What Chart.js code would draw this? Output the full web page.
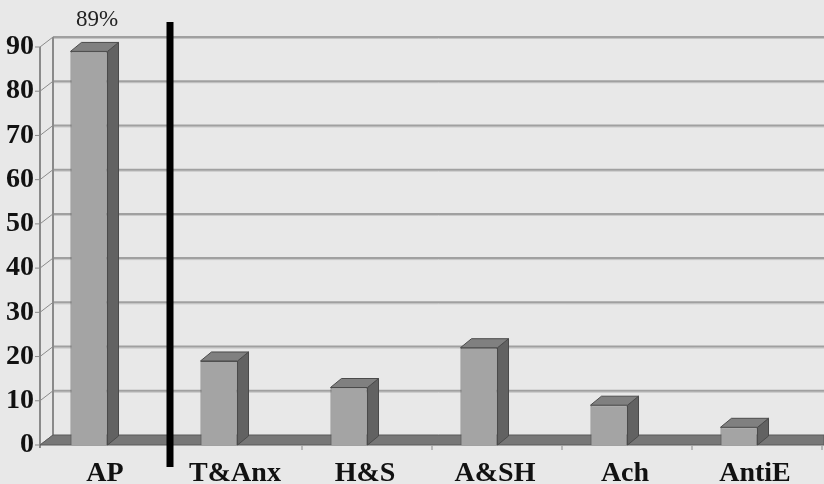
<!DOCTYPE html>
<html>
<head>
<meta charset="utf-8">
<script src="https://cdn.jsdelivr.net/npm/chart.js@4"></script>
<style>
  html, body { margin: 0; padding: 0; background: #e8e8e8; }
  #wrap { width: 824px; height: 484px; position: relative; }
</style>
</head>
<body>
<div id="wrap"><canvas id="chart"></canvas></div>
<script>
'use strict'

const categories = ['AP', 'T&Anx', 'H&S', 'A&SH', 'Ach', 'AntiE']
const percentages = [89, 19, 13, 22, 9, 4]
const yTicks = [0, 10, 20, 30, 40, 50, 60, 70, 80, 90]
const labelledBars = [0]

const DEPTH_X = 11
const DEPTH_Y = 9
const WALL_X = 13
const WALL_Y = 10
const SERIF = '"Liberation Serif", "Times New Roman", serif'

// fake 3d: back wall, floor, bar tops/sides, separator and the % label
const box3d = {
  id: 'box3d',
  beforeDatasetsDraw (chart) {
    const { ctx, scales: { x, y } } = chart
    const right = chart.width
    const frontX = 40
    const backX = frontX + WALL_X
    ctx.save()

    // wall gridlines
    for (const v of yTicks) {
      const fy = y.getPixelForValue(v)
      const by = fy - WALL_Y
      if (v > 0) {
        ctx.strokeStyle = '#c4c4c4'
        ctx.lineWidth = 1
        ctx.beginPath()
        ctx.moveTo(backX, by + 1.5)
        ctx.lineTo(right, by + 1.5)
        ctx.stroke()
        ctx.strokeStyle = '#a0a0a0'
        ctx.lineWidth = 2
        ctx.beginPath()
        ctx.moveTo(backX, by)
        ctx.lineTo(right, by)
        ctx.stroke()
      }
      ctx.strokeStyle = '#8a8a8a'
      ctx.lineWidth = 1
      ctx.beginPath()
      ctx.moveTo(frontX - 5, fy)
      ctx.lineTo(frontX, fy)
      ctx.lineTo(backX, by)
      ctx.stroke()
    }

    // front and back vertical edges
    const top = y.getPixelForValue(yTicks[yTicks.length - 1])
    const base = y.getPixelForValue(0)
    ctx.strokeStyle = '#8a8a8a'
    ctx.lineWidth = 2
    ctx.beginPath()
    ctx.moveTo(frontX, top)
    ctx.lineTo(frontX, base + 3)
    ctx.moveTo(backX, top - WALL_Y)
    ctx.lineTo(backX, base - WALL_Y)
    ctx.stroke()

    // floor slab
    ctx.fillStyle = '#777777'
    ctx.strokeStyle = '#5a5a5a'
    ctx.lineWidth = 1
    ctx.beginPath()
    ctx.moveTo(frontX, base)
    ctx.lineTo(backX, base - WALL_Y)
    ctx.lineTo(right, base - WALL_Y)
    ctx.lineTo(right, base)
    ctx.closePath()
    ctx.fill()
    ctx.stroke()

    // category boundary ticks under the floor
    const step = x.getPixelForTick(1) - x.getPixelForTick(0)
    ctx.strokeStyle = '#8a8a8a'
    for (let i = 0; i < categories.length; i++) {
      const bx = x.getPixelForTick(i) + step / 2 + 18
      ctx.beginPath()
      ctx.moveTo(bx, base + 1)
      ctx.lineTo(bx, base + 5)
      ctx.stroke()
    }
    ctx.restore()
  },
  afterDatasetsDraw (chart) {
    const { ctx, chartArea, scales: { x } } = chart
    const bars = chart.getDatasetMeta(0).data
    ctx.save()
    ctx.lineWidth = 1
    ctx.strokeStyle = '#4a4a4a'
    for (const bar of bars) {
      const { x: cx, y: topY, base, width } = bar.getProps(['x', 'y', 'base', 'width'], true)
      const l = cx - width / 2
      const r = cx + width / 2
      // side
      ctx.fillStyle = '#626262'
      ctx.beginPath()
      ctx.moveTo(r, topY)
      ctx.lineTo(r + DEPTH_X, topY - DEPTH_Y)
      ctx.lineTo(r + DEPTH_X, base - DEPTH_Y)
      ctx.lineTo(r, base)
      ctx.closePath()
      ctx.fill()
      ctx.stroke()
      // top
      ctx.fillStyle = '#808080'
      ctx.beginPath()
      ctx.moveTo(l, topY)
      ctx.lineTo(l + DEPTH_X, topY - DEPTH_Y)
      ctx.lineTo(r + DEPTH_X, topY - DEPTH_Y)
      ctx.lineTo(r, topY)
      ctx.closePath()
      ctx.fill()
      ctx.stroke()
    }

    // value label
    ctx.fillStyle = '#222'
    ctx.font = '23px ' + SERIF
    ctx.textAlign = 'center'
    ctx.textBaseline = 'middle'
    for (const i of labelledBars) {
      const bar = bars[i]
      ctx.fillText(percentages[i] + '%', bar.x + 8, bar.y - 31)
    }

    // separator between AP and the rest
    const sepX = (x.getPixelForTick(0) + x.getPixelForTick(1)) / 2 + 16
    ctx.fillStyle = '#000'
    ctx.fillRect(sepX - 3.5, chartArea.top - 25, 7, chartArea.bottom - chartArea.top + 47)
    ctx.restore()
  }
}

new Chart(document.getElementById('chart'), {
  type: 'bar',
  data: {
    labels: categories,
    datasets: [
      {
        data: percentages,
        backgroundColor: '#a4a4a4',
        borderColor: '#555555',
        borderWidth: 1,
        barPercentage: 0.285,
        categoryPercentage: 1
      }
    ]
  },
  options: {
    responsive: true,
    maintainAspectRatio: false,
    animation: false,
    layout: {
      padding: { top: 47, right: 20, left: 0, bottom: 0 }
    },
    plugins: {
      legend: { display: false },
      tooltip: { enabled: false }
    },
    scales: {
      x: {
        grid: { display: false, drawTicks: false },
        border: { display: false },
        afterFit: (scale) => { scale.height = 39 },
        ticks: {
          color: '#111',
          padding: 12,
          labelOffset: 16,
          font: { family: SERIF, size: 28, weight: 'bold' }
        }
      },
      y: {
        min: 0,
        max: 90,
        grid: { display: false, drawTicks: false },
        border: { display: false },
        afterFit: (scale) => { scale.width = 24 },
        afterBuildTicks: (scale) => { scale.ticks = yTicks.map(v => ({ value: v })) },
        ticks: {
          color: '#111',
          mirror: true,
          crossAlign: 'far',
          padding: -18,
          font: { family: SERIF, size: 28, weight: 'bold' }
        }
      }
    }
  },
  plugins: [box3d]
})
</script>
</body>
</html>
